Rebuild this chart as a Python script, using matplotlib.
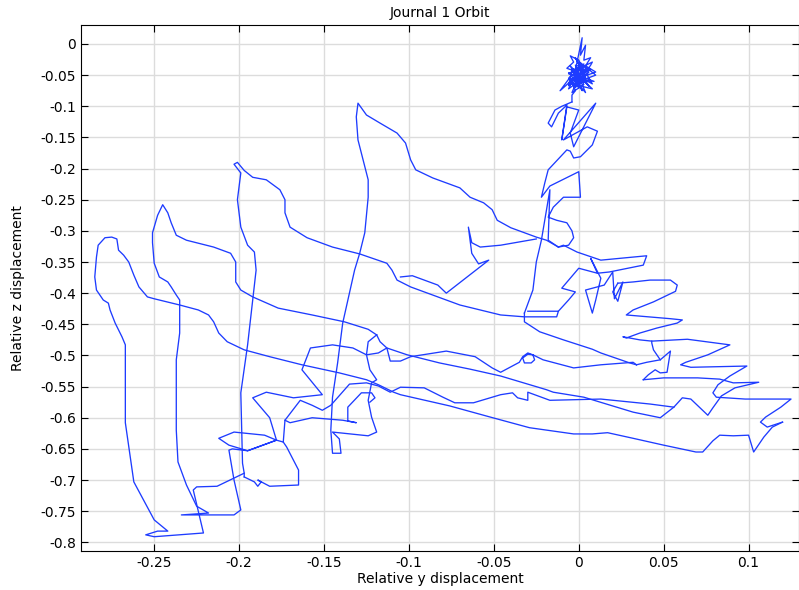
import matplotlib
matplotlib.use("Agg")
import matplotlib.pyplot as plt

# journal centre orbit (y = horizontal, z = vertical)
cluster_y = [-0.002, 0.002, 0.001, 0.004, 0.003, 0.007, 0.004, 0.010, 0.005, 0.008, 0.002, 0.000,
             -0.003, -0.006, -0.004, -0.007, -0.003, -0.005, 0.000, 0.003,
             -0.004, 0.004, -0.005, 0.006, -0.002, 0.003, -0.006, 0.009, -0.003, 0.002, -0.005,
             0.006, 0.000, -0.006, 0.004, -0.002, 0.010, 0.001, -0.004, 0.005, -0.001, 0.008,
             -0.003, 0.002, -0.006, 0.004, 0.000, 0.007, -0.002, 0.003, -0.004, 0.001,
             -0.001, 0.005, 0.007,
             0.008, -0.006, 0.001, -0.002, 0.003, 0.001, -0.004, -0.011, -0.005, -0.002, -0.004, -0.004]
cluster_z = [-0.042, 0.010, -0.018, -0.002, -0.026, -0.022, -0.035, -0.045, -0.050, -0.064, -0.055,
             -0.071, -0.055, -0.067, -0.042, -0.039, -0.029, -0.019, -0.026, -0.042,
             -0.040, -0.060, -0.065, -0.045, -0.070, -0.032, -0.055, -0.060, -0.048, -0.075, -0.035,
             -0.068, -0.040, -0.072, -0.052, -0.062, -0.050, -0.030, -0.060, -0.038, -0.066, -0.072,
             -0.044, -0.058, -0.046, -0.078, -0.052, -0.041, -0.034, -0.065, -0.078, -0.046,
             -0.051, -0.042, -0.034,
             -0.029, -0.048, -0.035, -0.022, -0.050, -0.061, -0.058, -0.075, -0.053, -0.075,
             -0.082, -0.093]

trail_y = [-0.004, -0.010, -0.014, -0.018, -0.016, -0.012, -0.007, -0.010, -0.007, 0.000, -0.005,
           -0.003, 0.010, -0.009, 0.005, 0.011, 0.008, 0.001, -0.003, -0.005, -0.007, -0.018, -0.020,
           -0.022, -0.017, 0.000, 0.001, -0.009, -0.015, -0.018, -0.013, -0.007, -0.004, -0.003,
           -0.006, -0.012, -0.018, -0.017, -0.022, -0.025, -0.027, -0.032]
trail_z = [-0.093, -0.100, -0.106, -0.127, -0.133, -0.111, -0.098, -0.154, -0.101, -0.106, -0.143,
           -0.165, -0.095, -0.154, -0.133, -0.140, -0.162, -0.181, -0.183, -0.172, -0.170, -0.202,
           -0.223, -0.246, -0.228, -0.205, -0.246, -0.246, -0.262, -0.278, -0.283, -0.287, -0.300,
           -0.311, -0.323, -0.326, -0.315, -0.234, -0.315, -0.350, -0.395, -0.432]

l1_y = [-0.032, -0.032, -0.023, -0.009, 0.008, 0.013, 0.030, 0.034]
l1_z = [-0.432, -0.446, -0.462, -0.475, -0.490, -0.496, -0.512, -0.515]

knot_y = [0.034, 0.040, 0.048, 0.054, 0.052, 0.048, 0.045, 0.041, 0.038]
knot_z = [-0.515, -0.511, -0.507, -0.493, -0.527, -0.528, -0.523, -0.531, -0.539]
knot2_y = [0.048, 0.044, 0.043, 0.043]
knot2_z = [-0.507, -0.491, -0.480, -0.477]

z2_y = [0.038, 0.050, 0.070, 0.083, 0.091, 0.106, 0.092, 0.084, 0.079, 0.076, 0.071, 0.066, 0.061,
        0.056, 0.048, 0.032, 0.003, -0.015, -0.019, -0.046, -0.064, -0.082, -0.101, -0.113, -0.117,
        -0.119]
z2_z = [-0.539, -0.536, -0.536, -0.538, -0.544, -0.543, -0.552, -0.565, -0.584, -0.596, -0.583,
        -0.570, -0.568, -0.583, -0.600, -0.591, -0.567, -0.559, -0.555, -0.533, -0.522, -0.512,
        -0.499, -0.488, -0.478, -0.467]

s2_y = [-0.119, -0.124, -0.138, -0.157, -0.177, -0.192, -0.199, -0.202, -0.202, -0.205, -0.215,
        -0.231, -0.237, -0.240, -0.242, -0.245, -0.248, -0.251, -0.251, -0.250, -0.247, -0.242,
        -0.240, -0.237, -0.235, -0.235, -0.237, -0.237, -0.237, -0.236, -0.231, -0.225, -0.218,
        -0.234, -0.203, -0.199, -0.203, -0.206, -0.204, -0.195, -0.178, -0.185, -0.203, -0.212,
        -0.206, -0.195, -0.178, -0.174, -0.172, -0.165, -0.165, -0.182, -0.189, -0.187, -0.189,
        -0.191, -0.197]
s2_z = [-0.467, -0.458, -0.446, -0.435, -0.424, -0.406, -0.395, -0.382, -0.350, -0.336, -0.326,
        -0.315, -0.307, -0.287, -0.271, -0.258, -0.275, -0.303, -0.319, -0.352, -0.374, -0.382,
        -0.390, -0.403, -0.411, -0.464, -0.507, -0.555, -0.620, -0.671, -0.708, -0.742, -0.753,
        -0.756, -0.756, -0.748, -0.700, -0.652, -0.650, -0.653, -0.636, -0.628, -0.623, -0.633,
        -0.644, -0.653, -0.636, -0.639, -0.647, -0.684, -0.708, -0.710, -0.700, -0.703, -0.710,
        -0.703, -0.695]

lb_y = [-0.178, -0.182, -0.192, -0.184, -0.168, -0.151, -0.163, -0.158, -0.145, -0.133, -0.125,
        -0.118, -0.113, -0.111, -0.105, -0.099, -0.078, -0.061, -0.051, -0.046, -0.035, -0.033,
        -0.030, -0.027, -0.026, -0.028, -0.032, -0.033, -0.030, -0.027, -0.021, -0.003, 0.013,
        0.032, 0.034]
lb_z = [-0.636, -0.600, -0.568, -0.559, -0.568, -0.563, -0.523, -0.488, -0.483, -0.488, -0.499,
        -0.496, -0.488, -0.509, -0.509, -0.502, -0.493, -0.502, -0.520, -0.527, -0.511, -0.502,
        -0.496, -0.499, -0.507, -0.512, -0.512, -0.504, -0.498, -0.499, -0.507, -0.520, -0.515,
        -0.511, -0.515]

d1_y = [-0.174, -0.173, -0.164, -0.157, -0.151, -0.146, -0.135, -0.125, -0.118, -0.111, -0.105,
        -0.091, -0.080, -0.073, -0.062, -0.046, -0.039, -0.036, -0.030, -0.030, -0.027, -0.017,
        0.013, 0.042, 0.056]
d1_z = [-0.639, -0.604, -0.572, -0.580, -0.588, -0.580, -0.546, -0.544, -0.549, -0.559, -0.551,
        -0.552, -0.567, -0.576, -0.576, -0.563, -0.560, -0.568, -0.572, -0.559, -0.562, -0.572,
        -0.570, -0.578, -0.583]
d2_y = [-0.173, -0.170, -0.157, -0.139, -0.131, -0.136, -0.136, -0.128, -0.122, -0.120, -0.123]
d2_z = [-0.604, -0.608, -0.600, -0.604, -0.608, -0.605, -0.583, -0.560, -0.560, -0.568, -0.575]

s4_y = [-0.012, -0.019, -0.025, -0.040, -0.048, -0.051, -0.056, -0.064, -0.070, -0.086, -0.096,
        -0.099, -0.102, -0.107, -0.117, -0.125, -0.130, -0.131, -0.130, -0.127, -0.124, -0.124,
        -0.126, -0.129, -0.132, -0.139, -0.142, -0.145, -0.146, -0.145, -0.140, -0.141, -0.145,
        -0.124, -0.119, -0.122, -0.124, -0.122, -0.119, -0.123, -0.125, -0.124, -0.119]
s4_z = [-0.326, -0.315, -0.310, -0.295, -0.283, -0.266, -0.255, -0.246, -0.231, -0.215, -0.202,
        -0.186, -0.159, -0.143, -0.127, -0.114, -0.095, -0.117, -0.154, -0.186, -0.218, -0.246,
        -0.303, -0.336, -0.363, -0.448, -0.512, -0.567, -0.620, -0.657, -0.657, -0.634, -0.623,
        -0.629, -0.623, -0.599, -0.572, -0.544, -0.539, -0.523, -0.499, -0.478, -0.467]

s4r_y = [-0.012, -0.009, -0.001, 0.013, 0.040, 0.038, 0.018, 0.011]
s4r_z = [-0.326, -0.323, -0.334, -0.347, -0.340, -0.355, -0.366, -0.368]

hook_y = [-0.025, -0.046, -0.058, -0.063, -0.065, -0.063, -0.059, -0.053, -0.078, -0.083, -0.098, -0.105]
hook_z = [-0.313, -0.323, -0.326, -0.319, -0.294, -0.336, -0.353, -0.347, -0.400, -0.387, -0.372, -0.374]

s3_y = [-0.197, -0.197, -0.198, -0.199, -0.195, -0.192, -0.190, -0.191, -0.195, -0.199, -0.201,
        -0.199, -0.203, -0.201, -0.197, -0.192, -0.184, -0.176, -0.173, -0.173, -0.170, -0.160,
        -0.145, -0.129, -0.113, -0.110, -0.107, -0.099, -0.083, -0.070, -0.046, -0.032, -0.013,
        -0.012, -0.030]
s3_z = [-0.695, -0.689, -0.673, -0.560, -0.483, -0.411, -0.363, -0.334, -0.323, -0.294, -0.250,
        -0.207, -0.193, -0.190, -0.203, -0.214, -0.218, -0.234, -0.250, -0.271, -0.294, -0.311,
        -0.326, -0.337, -0.352, -0.363, -0.379, -0.390, -0.406, -0.419, -0.435, -0.438, -0.438,
        -0.429, -0.429]

scrib_y = [-0.012, -0.006, -0.002, -0.010, 0.000, 0.011, 0.007, 0.013, 0.010, 0.008, 0.004, 0.015,
           0.020, 0.021, 0.026, 0.023, 0.020, 0.023]
scrib_z = [-0.429, -0.411, -0.398, -0.392, -0.360, -0.368, -0.344, -0.376, -0.411, -0.432, -0.395,
           -0.387, -0.366, -0.409, -0.382, -0.413, -0.398, -0.384]

z1_y = [0.023, 0.032, 0.042, 0.054, 0.058, 0.057, 0.044, 0.032, 0.028, 0.054, 0.061, 0.058, 0.046,
        0.036, 0.028, 0.026, 0.036, 0.043, 0.064, 0.089, 0.076, 0.063, 0.060, 0.066, 0.099, 0.089,
        0.082, 0.079, 0.081, 0.098, 0.125, 0.119, 0.110, 0.107, 0.111, 0.120]
z1_z = [-0.384, -0.382, -0.379, -0.379, -0.387, -0.397, -0.414, -0.427, -0.435, -0.441, -0.443,
        -0.448, -0.456, -0.464, -0.472, -0.470, -0.475, -0.477, -0.474, -0.483, -0.499, -0.511,
        -0.515, -0.519, -0.517, -0.533, -0.547, -0.560, -0.567, -0.570, -0.570, -0.583, -0.599,
        -0.607, -0.615, -0.607]

s1_y = [0.120, 0.114, 0.109, 0.103, 0.100, 0.091, 0.083, 0.079, 0.073, 0.069, 0.050, 0.032, 0.017,
        0.008, -0.003, -0.029, -0.052, -0.076, -0.105, -0.109, -0.118, -0.125, -0.141, -0.163,
        -0.182, -0.197, -0.207, -0.212, -0.215, -0.218, -0.224, -0.235, -0.250, -0.254, -0.259,
        -0.262, -0.265, -0.268, -0.271, -0.272, -0.275, -0.279, -0.283, -0.284, -0.285, -0.284,
        -0.280, -0.277, -0.276, -0.273, -0.269, -0.267, -0.267, -0.262, -0.250, -0.242, -0.248,
        -0.255, -0.250, -0.221, -0.227, -0.225, -0.213, -0.197]
s1_z = [-0.607, -0.615, -0.631, -0.655, -0.628, -0.629, -0.628, -0.637, -0.655, -0.655, -0.644,
        -0.633, -0.624, -0.626, -0.626, -0.616, -0.599, -0.581, -0.563, -0.559, -0.547, -0.539,
        -0.528, -0.515, -0.502, -0.491, -0.478, -0.464, -0.446, -0.435, -0.427, -0.419, -0.409,
        -0.406, -0.390, -0.371, -0.350, -0.339, -0.331, -0.313, -0.310, -0.311, -0.323, -0.342,
        -0.374, -0.395, -0.411, -0.416, -0.427, -0.448, -0.470, -0.483, -0.608, -0.703, -0.764,
        -0.782, -0.782, -0.788, -0.791, -0.785, -0.716, -0.711, -0.710, -0.689]

xticks = [-0.25, -0.2, -0.15, -0.1, -0.05, 0, 0.05, 0.1]
xtick_labels = ["-0.25", "-0.2", "-0.15", "-0.1", "-0.05", "0", "0.05", "0.1"]
yticks = [0, -0.05, -0.1, -0.15, -0.2, -0.25, -0.3, -0.35, -0.4, -0.45, -0.5, -0.55, -0.6,
          -0.65, -0.7, -0.75, -0.8]
ytick_labels = ["0", "-0.05", "-0.1", "-0.15", "-0.2", "-0.25", "-0.3", "-0.35", "-0.4", "-0.45",
                "-0.5", "-0.55", "-0.6", "-0.65", "-0.7", "-0.75", "-0.8"]

strokes = [
    (cluster_y, cluster_z), (trail_y, trail_z), (l1_y, l1_z), (knot_y, knot_z),
    (knot2_y, knot2_z), (z2_y, z2_z), (s2_y, s2_z), (lb_y, lb_z), (d1_y, d1_z),
    (d2_y, d2_z), (s4_y, s4_z), (s4r_y, s4r_z), (hook_y, hook_z), (s3_y, s3_z),
    (scrib_y, scrib_z), (z1_y, z1_z), (s1_y, s1_z),
]

fig = plt.figure(figsize=(7.99, 5.90), dpi=100)
ax = fig.add_axes([0.1014, 0.0656, 0.8986, 0.8915])

for ys, zs in strokes:
    ax.plot(ys, zs, color="#1e3cff", lw=0.95)

ax.set_xlim(-0.2931, 0.1297)
ax.set_ylim(-0.8144, 0.030)
ax.set_xticks(xticks)
ax.set_xticklabels(xtick_labels)
ax.set_yticks(yticks)
ax.set_yticklabels(ytick_labels)
ax.tick_params(direction="in", length=5, width=0.8, top=True, right=True, labelsize=10)
ax.grid(True, color="#dcdcdc", linewidth=1.0)
ax.set_axisbelow(True)
for sp in ax.spines.values():
    sp.set_linewidth(0.8)

ax.set_title("Journal 1 Orbit", fontsize=10)
ax.set_xlabel("Relative y displacement", fontsize=10, labelpad=1)
ax.set_ylabel("Relative z displacement", fontsize=10, labelpad=11)

fig.savefig("out.png", dpi=100)
